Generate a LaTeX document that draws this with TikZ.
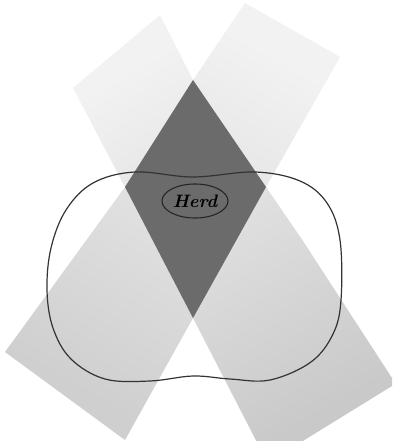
\documentclass[tikz,border=0pt]{standalone}
\usetikzlibrary{shapes.geometric}
\begin{document}
\begin{tikzpicture}[x=1pt,y=-1pt,
  outline/.style={draw=black!80,line width=1.2pt},
  herdbox/.style={ellipse,draw=black!85,line width=1.1pt,minimum width=66pt,minimum height=34pt,inner sep=0pt,
    font=\fontsize{18}{18}\selectfont\bfseries\itshape}]
\useasboundingbox (0,0) rectangle (393,441);
\fill[white] (0,0) rectangle (393,441);
% beams
\def\bandL{(73,88) -- (160,15) -- (193,80) -- (266,187) -- (303,241) -- (392,378) -- (392,386) -- (285,452) -- (262,452) -- (193,318) -- (125,187) -- cycle}
\def\bandR{(245,3) -- (340,57) -- (266,187) -- (193,318) -- (125,440) -- (5,352) -- (125,187) -- (193,80) -- cycle}
\shade[top color=black!5,middle color=black!27,bottom color=black!21,shading angle=30] \bandL;
\shade[top color=black!5,middle color=black!27,bottom color=black!19,shading angle=-30] \bandR;
\begin{scope}
  \clip \bandL;
  \fill[black!58] \bandR;
\end{scope}
% body outline
\draw[outline] plot[smooth cycle,tension=0.6] coordinates {
  (47,290) (51,248) (66,210) (93,183) (135,172) (193,177) (255,172) (300,181)
  (327,203) (340,240) (341,300) (333,334) (311,362) (270,380) (230,379) (193,376)
  (150,381) (105,379) (71,359) (53,328)};
% focus
\node[herdbox] (herd) at (195,201) {Herd};
\end{tikzpicture}
\end{document}
